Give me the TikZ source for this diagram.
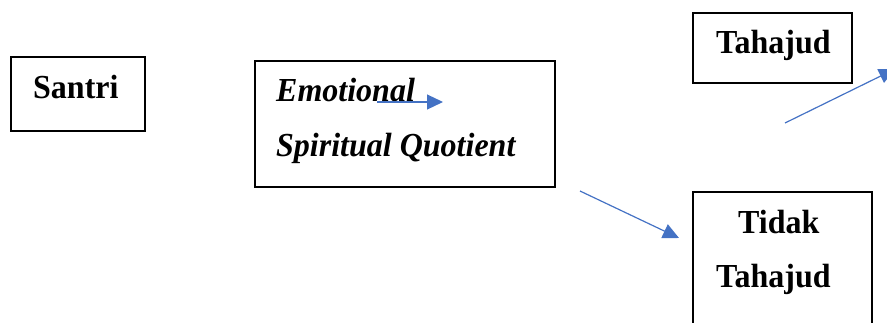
\documentclass[tikz,border=0pt]{standalone}
\usepackage{fontspec}
\setmainfont{Liberation Serif}
\usetikzlibrary{arrows.meta}
\definecolor{arrowblue}{HTML}{4472C4}
\tikzset{
  box/.style={draw=black, line width=2pt, inner sep=0pt},
  lbl/.style={anchor=base west, inner sep=0pt, yscale=1.05, font=\fontsize{32}{36}\selectfont\bfseries},
  ilbl/.style={lbl, font=\fontsize{32}{36}\selectfont\bfseries\itshape},
  bluearrow/.style={draw=arrowblue, line width=1.2pt, -{Triangle[length=16pt,width=15pt]}}
}
\begin{document}
\begin{tikzpicture}[x=1pt,y=-1pt]
\useasboundingbox (0,0) rectangle (887,322);
\clip (0,0) rectangle (887,322);
% boxes
\draw[box] (11,57) rectangle (145,131);
\draw[box] (255,61) rectangle (555,187);
\draw[box] (693,13) rectangle (852,83);
\draw[box] (693,192) rectangle (872,340);
\node (santri) [lbl] at (33,98) {Santri};
\node (emo) [ilbl] at (276,101) {Emotional};
\node (spq) [ilbl] at (276,156) {Spiritual Quotient};
\node (tah) [lbl] at (716,53) {Tahajud};
\node (tidak) [lbl] at (738,233) {Tidak};
\node (tah2) [lbl] at (716,287) {Tahajud};
% arrows
\coordinate (a1s) at (377,102);
\coordinate (a1e) at (443,102);
\coordinate (a2s) at (580,191);
\coordinate (a2e) at (679,238);
\coordinate (a3s) at (785,123);
\coordinate (a3e) at (895,69);
\draw[bluearrow] (a1s) -- (a1e);
\draw[bluearrow] (a2s) -- (a2e);
\draw[bluearrow] (a3s) -- (a3e);
\end{tikzpicture}
\end{document}
